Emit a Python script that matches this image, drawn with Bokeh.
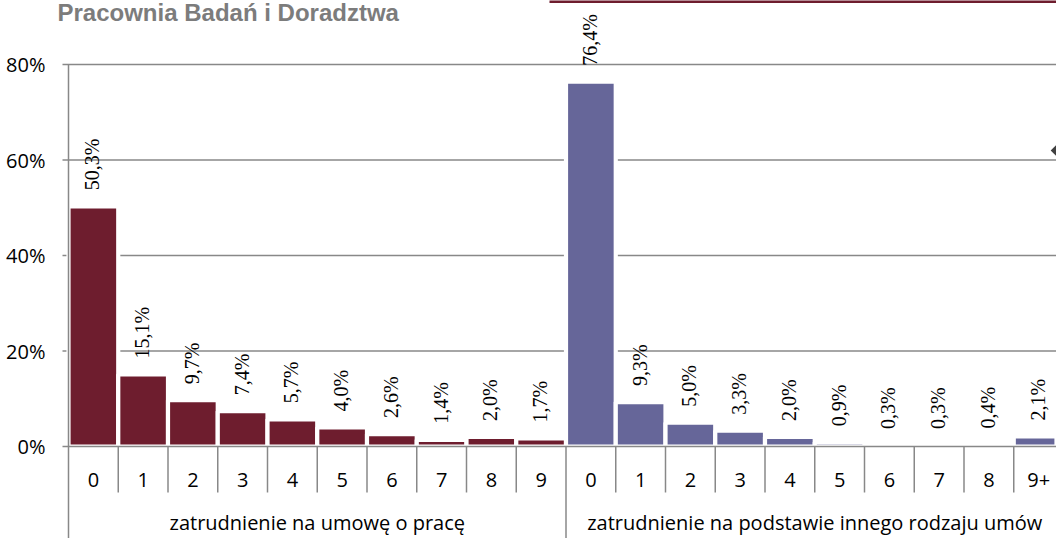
import math
from bokeh.plotting import figure
from bokeh.models import Range1d, FixedTicker, ColumnDataSource, LabelSet, Label
from bokeh.core.properties import value
from bokeh.embed import file_html
from bokeh.resources import INLINE

# ---- data ----
title_text = "Pracownia Badań i Doradztwa"
group_names = ["zatrudnienie na umowę o pracę",
               "zatrudnienie na podstawie innego rodzaju umów"]
categories_1 = ["0", "1", "2", "3", "4", "5", "6", "7", "8", "9"]
categories_2 = ["0", "1", "2", "3", "4", "5", "6", "7", "8", "9+"]
values_1 = [50.3, 15.1, 9.7, 7.4, 5.7, 4.0, 2.6, 1.4, 2.0, 1.7]
values_2 = [76.4, 9.3, 5.0, 3.3, 2.0, 0.9, 0.3, 0.3, 0.4, 2.1]
y_ticks = [0, 20, 40, 60, 80]
y_tick_labels = ["0%", "20%", "40%", "60%", "80%"]
colors = ["#6E1D2E", "#666699"]

# ---- geometry (canvas pixels) ----
W, H = 1056, 538
axis_x, axis_top, axis_zero = 68, 64, 446      # y axis position, 80% and 0% rows
frame_left = 56
unit_px = (axis_zero - axis_top) / 80.0        # pixels per 1 %
cat_px = 49.75                                 # pixels per category
y_top = 80 + axis_top / unit_px
y_bottom = 80 - (H - axis_top) / unit_px
x_start = -(axis_x - frame_left) / cat_px
x_end = (W - axis_x) / cat_px
TXT_SHIFT = 8.5   # text glyphs land this many px below the requested baseline


def ydata(cy):
    return 80 - (cy - axis_top) / unit_px


def xdata(cx):
    return (cx - axis_x) / cat_px


FONT = value("Open Sans")
AX = "#888888"
LW = 1.5

p = figure(width=W, height=H, output_backend="svg", toolbar_location=None,
           x_axis_type=None, x_range=Range1d(x_start, x_end),
           y_range=Range1d(y_bottom, y_top))
p.min_border_left = frame_left
p.min_border_top = 0
p.min_border_right = 0
p.min_border_bottom = 0
p.outline_line_color = None
p.background_fill_color = "white"
p.border_fill_color = "white"

ax = p.yaxis[0]
ax.ticker = FixedTicker(ticks=y_ticks)
ax.major_label_overrides = {t: l for t, l in zip(y_ticks, y_tick_labels)}
ax.axis_line_color = None
ax.major_tick_line_color = None
ax.minor_tick_line_color = None
ax.major_tick_out = 0
ax.major_tick_in = 0
ax.major_label_standoff = 11
ax.major_label_text_font = "Open Sans"
ax.major_label_text_font_size = "20px"
ax.major_label_text_color = "black"
p.ygrid.visible = False

# ---- gridlines (with the small outer tick stubs) ----
gl = [t for t in y_ticks if t > 0]
p.segment(x0=[xdata(62)] * len(gl), y0=gl, x1=[x_end] * len(gl), y1=gl,
          line_color=AX, line_width=LW)

# ---- bars ----
xs1 = [i + 0.5 for i in range(len(values_1))]
xs2 = [len(values_1) + i + 0.5 for i in range(len(values_2))]


def fmt(v):
    return ("%.1f" % v).replace(".", ",") + "%"


for xs, vals, col in ((xs1, values_1, colors[0]), (xs2, values_2, colors[1])):
    src = ColumnDataSource(dict(x=xs, top=vals, lab=[fmt(v) for v in vals]))
    p.vbar(x="x", top="top", bottom=0, width=1.0, source=src,
           fill_color=col, line_color="white", line_width=4.2)
    p.add_layout(LabelSet(x="x", y="top", text="lab", source=src,
                          angle=math.pi / 2, text_align="left",
                          text_baseline="middle", y_offset=16, x_offset=-1,
                          text_font="Open Sans", text_font_size="20px",
                          text_color="black"))

# ---- axes drawn by hand ----
n = len(values_1) + len(values_2)
p.segment(x0=[xdata(62)], y0=[0], x1=[x_end], y1=[0], line_color=AX, line_width=LW)
p.segment(x0=[0], y0=[80], x1=[0], y1=[y_bottom], line_color=AX, line_width=LW)
seps = [i for i in range(1, n) if i != len(values_1)]
p.segment(x0=seps, y0=[0] * len(seps), x1=seps, y1=[ydata(492)] * len(seps),
          line_color=AX, line_width=LW)
gseps = [len(values_1)]
p.segment(x0=gseps, y0=[0], x1=gseps, y1=[y_bottom],
          line_color=AX, line_width=LW)

cats = categories_1 + categories_2
p.text(x=xs1 + xs2, y=[ydata(488 - TXT_SHIFT)] * n, text=cats, text_align="center",
       text_baseline="alphabetic", text_font=FONT, text_font_size="20px",
       text_color="black")

gx = [len(values_1) / 2, len(values_1) + len(values_2) / 2]
p.text(x=gx, y=[ydata(530 - TXT_SHIFT)] * 2, text=group_names, text_align="center",
       text_baseline="alphabetic", text_font=FONT, text_font_size="20px",
       text_color="black")

# ---- header fragment ----
p.segment(x0=[xdata(549)], y0=[ydata(1)], x1=[x_end], y1=[ydata(1)],
          line_color="#6E1D2E", line_width=3)
p.add_layout(Label(x=xdata(57), y=ydata(20 - TXT_SHIFT), text=title_text,
                   text_font="Liberation Sans", text_font_style="bold",
                   text_font_size="24px", text_color="#7c7c7c",
                   text_baseline="alphabetic", text_align="left"))
p.scatter(x=[xdata(1055.5)], y=[ydata(150)], marker="square", size=7.5,
          angle=math.pi / 4, fill_color="#404040", line_color=None)

open("out.html", "w").write(file_html(p, INLINE))
